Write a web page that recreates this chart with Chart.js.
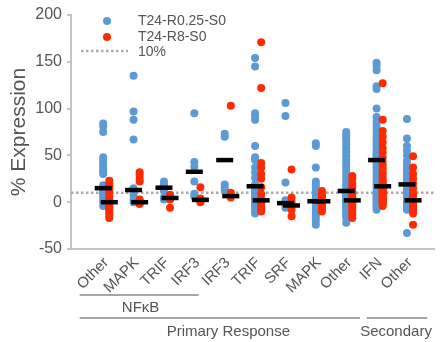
<!DOCTYPE html>
<html><head><meta charset="utf-8">
<script src="https://cdn.jsdelivr.net/npm/chart.js@4/dist/chart.umd.min.js"></script>
<style>html,body{margin:0;padding:0;background:#fff}#wrap{width:447px;height:342px}</style>
</head><body><div id="wrap"><canvas id="c" width="447" height="342"></canvas></div>
<script>
// ---------- data ----------
const categories = ['Other','MAPK','TRIF','IRF3','IRF3','TRIF','SRF','MAPK','Other','IFN','Other'];
const seriesNames = ['T24-R0.25-S0','T24-R8-S0'];
const thresholdLabel = '10%';
const thresholdValue = 10;
const yTicks = [-50, 0, 50, 100, 150, 200];

const blueValues = [
  [84, 81, 75, 48, 45, 42, 39, 36, 33, 30, 18, 16, 15, 14, 12, 10, 8, 5, 2, 0, -4],
  [135, 97, 88, 67, 15, 14, 12, 8, 3, 0],
  [22, 19, 16, 12, 5, 3],
  [95, 43, 38, 22, 9, 6],
  [73, 70, 19, 16, 13],
  [154, 145, 95, 92, 88, 60, 48, 45, 37, 32, 26, 19, 17, 15, 12, 10, 8, 6, 4, 2, 0, -3, -6, -9, -12],
  [106, 92, 21, 2, 0, -1, -3, -6],
  [63, 60, 37, 22, 19, 16, 12, 8, 5, 3, 2, 1, 0, -2, -4, -7, -10, -13, -16, -20, -24],
  [75, 72, 69, 66, 62, 58, 54, 50, 46, 42, 38, 34, 30, 26, 22, 18, 15, 12, 10, 8, 6, 5, 4, 3, 2, 1, 0, -2, -4, -6, -8, -11, -14, -17, -22],
  [149, 146, 141, 124, 121, 100, 91, 86, 82, 78, 74, 70, 67, 64, 61, 58, 55, 52, 50, 48, 46, 45, 43, 40, 37, 34, 31, 28, 25, 22, 19, 16, 13, 10, 8, 6, 4, 2, 0, -2, -4, -6, -8],
  [89, 68, 60, 55, 50, 44, 40, 36, 32, 28, 24, 21, 19, 17, 14, 11, 8, 5, 3, 2, 0, -3, -5, -8, -33]
];
const redValues = [
  [23, 20, 17, 14, 10, 6, 3, 1, 0, 0, -2, -4, -6, -8, -11, -14, -17],
  [32, 29, 25, 22, 3, 1, 0, -1, -2],
  [8, 6, 5, 3, -6],
  [16, 4, 2, 1, 0],
  [103, 10, 8, 5],
  [171, 122, 42, 37, 30, 25, 16, 9, 4, 2, 2, 1, 0, -2, -4, -6, -8, -10],
  [35, 5, 0, -3, -4, -8, -15],
  [12, 9, 7, 5, 3, 2, 0, -2, -4, -7, -10],
  [28, 25, 20, 16, 12, 9, 6, 4, 2, 2, 1, 0, -2, -4, -7, -10, -13, -17],
  [127, 88, 76, 70, 64, 58, 53, 48, 44, 40, 36, 32, 29, 26, 23, 21, 19, 18, 17, 16, 15, 14, 13, 12, 11, 10, 9, 8, 6, 5, 4, 3, 2, 1, 0, -2, -4],
  [49, 37, 30, 25, 20, 15, 10, 6, 4, 2, 1, 0, -1, -3, -5, -7, -9, -12, -24]
];
const blueMedians = [15, 13, 15.5, 32.5, 45, 17, -1, 1, 12, 45, 19];
const redMedians  = [0, 0, 4.5, 2.5, 6.5, 2, -3.5, 1, 2, 17, 2];

const groupLabels = ['NF\u03BAB', 'Primary Response', 'Secondary'];
const groupFrom = [1, 1, 10];
const groupTo = [4, 9, 11];

// ---------- styles ----------
const FONT = "'Liberation Sans', Arial, sans-serif";
const TXT = '#555555';
const BLUE = '#5b9bd5';
const RED = '#ff2a00';
const AXIS = '#c4c4c4';
const OFF = 0.1;

const toPoints = (cols, off) => cols.flatMap((col, i) => col.map(v => ({x: i + 1 + off, y: v})));
const toMed = (arr, off) => arr.map((v, i) => ({x: i + 1 + off, y: v}));

const XMIN = -0.16, XMAX = 11.79;

const annot = {
  id: 'annot',
  afterDraw(chart) {
    const {ctx, scales: {x}} = chart;
    ctx.save();
    // legend
    ctx.fillStyle = BLUE;
    ctx.beginPath(); ctx.arc(107, 21, 4, 0, Math.PI * 2); ctx.fill();
    ctx.fillStyle = RED;
    ctx.beginPath(); ctx.arc(107, 37, 4, 0, Math.PI * 2); ctx.fill();
    ctx.strokeStyle = '#aaaaaa'; ctx.lineWidth = 2.5; ctx.setLineDash([2.5, 2.5]);
    ctx.beginPath(); ctx.moveTo(81, 51); ctx.lineTo(128, 51); ctx.stroke();
    ctx.setLineDash([]);
    ctx.fillStyle = TXT; ctx.font = '14px ' + FONT; ctx.textBaseline = 'middle'; ctx.textAlign = 'left';
    ctx.fillText(seriesNames[0], 138, 21);
    ctx.fillText(seriesNames[1], 138, 37);
    ctx.fillText(thresholdLabel, 138, 52);
    // group brackets
    const spec = [
      {padL: 0.875, padR: 0.04, lineY: 295, textY: 308, textAt: 2.13},
      {padL: 0.875, padR: 0.35, lineY: 318, textY: 332, textAt: 5.02},
      {padL: 0.43, padR: 0.57, lineY: 318, textY: 332, textAt: 10.54}
    ];
    ctx.strokeStyle = '#a6a6a6'; ctx.lineWidth = 2;
    ctx.font = '15px ' + FONT; ctx.textAlign = 'center';
    groupLabels.forEach((lab, i) => {
      const s = spec[i];
      const x1 = x.getPixelForValue(groupFrom[i] - s.padL);
      const x2 = x.getPixelForValue(groupTo[i] + s.padR);
      ctx.beginPath(); ctx.moveTo(x1, s.lineY); ctx.lineTo(x2, s.lineY); ctx.stroke();
      ctx.fillText(lab, x.getPixelForValue(s.textAt), s.textY);
    });
    ctx.restore();
  }
};

new Chart(document.getElementById('c'), {
  type: 'scatter',
  data: {
    datasets: [
      {label: 'medB', data: toMed(blueMedians, -OFF), pointStyle: 'line', pointRadius: 8.5, pointBorderWidth: 4.5, pointBorderColor: '#000', pointBackgroundColor: '#000', order: 0},
      {label: 'medR', data: toMed(redMedians, OFF), pointStyle: 'line', pointRadius: 8.5, pointBorderWidth: 4.5, pointBorderColor: '#000', pointBackgroundColor: '#000', order: 1},
      {label: seriesNames[1], data: toPoints(redValues, OFF), pointRadius: 4, pointBorderWidth: 0, pointBackgroundColor: RED, order: 2},
      {label: seriesNames[0], data: toPoints(blueValues, -OFF), pointRadius: 4, pointBorderWidth: 0, pointBackgroundColor: BLUE, order: 3},
      {label: thresholdLabel, data: [{x: XMIN, y: thresholdValue}, {x: XMAX, y: thresholdValue}], showLine: true, borderColor: '#aaaaaa', borderWidth: 2.5, borderDash: [2.5, 2.5], pointRadius: 0, order: 4}
    ]
  },
  options: {
    responsive: false,
    animation: false,
    devicePixelRatio: 1,
    layout: {padding: {top: 15, right: 0, left: 0, bottom: 0}},
    plugins: {legend: {display: false}, tooltip: {enabled: false}},
    scales: {
      x: {
        type: 'linear', min: XMIN, max: XMAX,
        afterBuildTicks: s => { s.ticks = categories.map((c, i) => ({value: i + 1})); },
        afterFit: s => { s.height = 93; },
        grid: {display: false, drawTicks: false},
        border: {display: true, color: AXIS, width: 2},
        ticks: {autoSkip: false, minRotation: 45, maxRotation: 45, padding: 5, color: TXT,
          font: {family: FONT, size: 15},
          callback: v => categories[Math.round(v) - 1] || ''}
      },
      y: {
        min: -50, max: 200,
        afterBuildTicks: s => { s.ticks = yTicks.map(v => ({value: v})); },
        afterFit: s => { s.width = 71; },
        grid: {display: true, drawOnChartArea: false, drawTicks: true, tickLength: 4, color: AXIS, lineWidth: 2},
        border: {display: true, color: AXIS, width: 2},
        ticks: {padding: 5, color: TXT, font: {family: FONT, size: 16}},
        title: {display: true, text: '% Expression', color: TXT, font: {family: FONT, size: 21}, padding: {top: 7, bottom: 0}}
      }
    }
  },
  plugins: [annot]
});
</script></body></html>
